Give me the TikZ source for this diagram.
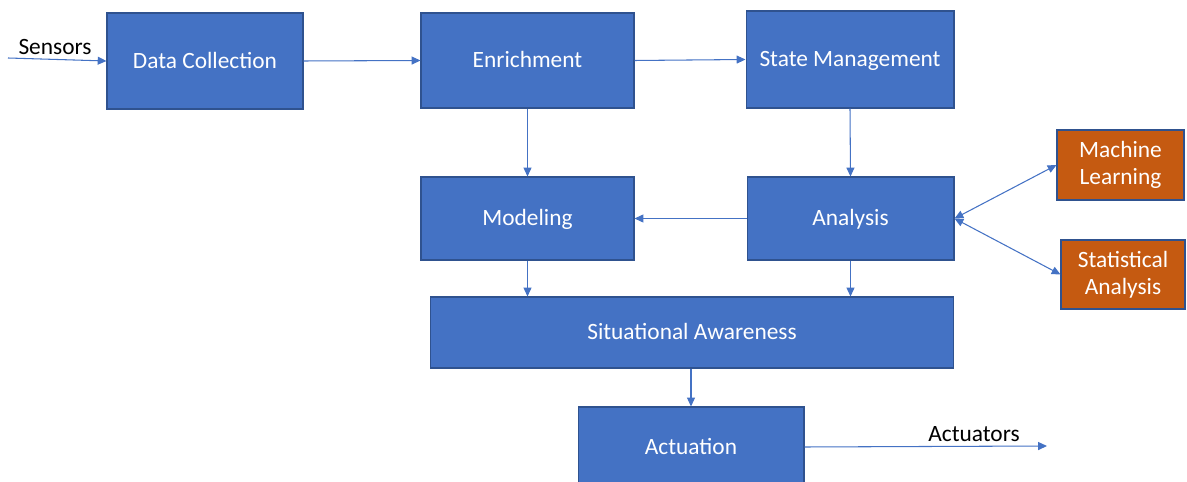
\documentclass[tikz,border=0pt]{standalone}
\usepackage{fontspec}
\setmainfont{Carlito}
\usetikzlibrary{arrows.meta}
\definecolor{boxblue}{HTML}{4472C4}
\definecolor{boxedge}{HTML}{2F528F}
\definecolor{boxorange}{HTML}{C55A11}
\begin{document}
\begin{tikzpicture}[x=0.02cm,y=-0.02cm,
    block/.style={draw=boxedge,line width=0.6pt,text=white,font=\fontsize{13.3}{15.5}\selectfont,align=center,inner sep=0pt},
    box/.style={block,fill=boxblue,text height=1em,text depth=0.18em},
    extbox/.style={block,fill=boxorange},
    link/.style={draw=boxblue,line width=0.6pt,-{Triangle[length=5pt,width=4.5pt]}}]
    \useasboundingbox (0,0) rectangle (1187,482);
    % main blocks
    \node[box,minimum width=3.92cm,minimum height=1.92cm] (dc) at (205,61) {Data Collection};
    \node[box,minimum width=4.26cm,minimum height=1.90cm] (enr) at (527.5,60.5) {Enrichment};
    \node[box,minimum width=4.16cm,minimum height=1.94cm] (sm) at (850,59.5) {State Management};
    \node[box,minimum width=4.26cm,minimum height=1.66cm] (mod) at (527.5,218.5) {Modeling};
    \node[box,minimum width=4.14cm,minimum height=1.66cm] (ana) at (850.5,218.5) {Analysis};
    \node[box,minimum width=10.48cm,minimum height=1.42cm] (sa) at (692,332.5) {Situational Awareness};
    \node[box,minimum width=4.52cm,minimum height=1.60cm] (act) at (691,447) {Actuation};
    \node[extbox,minimum width=2.54cm,minimum height=1.40cm] (ml) at (1120.5,165) {Machine\\Learning};
    \node[extbox,minimum width=2.48cm,minimum height=1.38cm] (st) at (1123,274.5) {Statistical\\Analysis};
    % inputs and outputs
    \coordinate (sens) at (8,58);
    \coordinate (out) at (1047,446);
    \node[font=\fontsize{13.3}{15.5}\selectfont] (senslbl) at (55,47) {Sensors};
    \node[font=\fontsize{13.3}{15.5}\selectfont] (actlbl) at (974,434) {Actuators};
    % connectors
    \draw[link] (sens) -- (dc.west);
    \draw[link] (dc.east) -- (enr.west);
    \draw[link] (enr.east) -- (sm.west);
    \draw[link] (enr.south) -- (mod.north);
    \draw[link] (sm.south) -- (ana.north);
    \draw[link] (ana.west) -- (mod.east);
    \draw[link] (mod.south) -- (mod.south |- sa.north);
    \draw[link] (ana.south) -- (ana.south |- sa.north);
    \draw[link] (sa.south -| act.north) -- (act.north);
    \draw[link] (act.east) -- (out);
    \draw[link,{Triangle[length=5pt,width=4.5pt]}-{Triangle[length=5pt,width=4.5pt]}] (ana.east) -- (ml.west);
    \draw[link,{Triangle[length=5pt,width=4.5pt]}-{Triangle[length=5pt,width=4.5pt]}] (ana.east) -- (st.west);
\end{tikzpicture}
\end{document}
